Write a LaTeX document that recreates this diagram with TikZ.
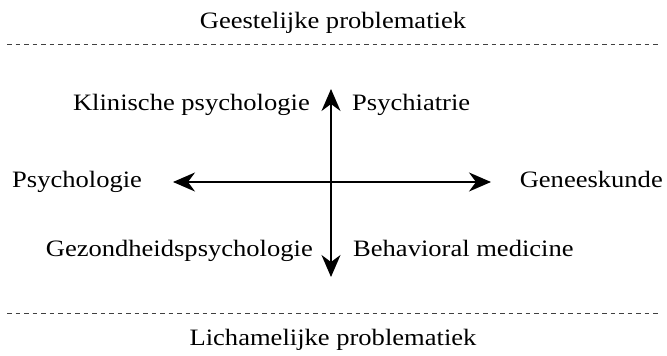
\documentclass[tikz,border=0pt]{standalone}
\usepackage{fontspec}
\setmainfont{Liberation Serif}[FakeStretch=1.13]
\usetikzlibrary{arrows.meta}
\begin{document}
\begin{tikzpicture}[x=1pt,y=-1pt,
  lbl/.style={inner sep=0pt, font=\fontsize{23.5}{28}\selectfont},
  axis/.style={line width=1.6pt, {Stealth[length=22pt,width=19pt,inset=7pt]}-{Stealth[length=22pt,width=19pt,inset=7pt]}},
  sep/.style={line width=0.8pt, black!75, dash pattern=on 4.5pt off 4pt}]
\useasboundingbox (0,0) rectangle (667,356);
\node[lbl, anchor=base] (top) at (333,28) {Geestelijke problematiek};
\node[lbl, anchor=base] (bot) at (333,345) {Lichamelijke problematiek};
\coordinate (s1a) at (7,44); \coordinate (s1b) at (661,44);
\coordinate (s2a) at (7,313); \coordinate (s2b) at (661,313);
\draw[sep] (s1a) -- (s1b);
\draw[sep] (s2a) -- (s2b);
\coordinate (L) at (173,182); \coordinate (R) at (491,182);
\coordinate (T) at (331,89); \coordinate (B) at (331,277);
\draw[axis] (L) -- (R);
\draw[axis] (B) -- (T);
\node[lbl, anchor=base east] (kp) at (310,110) {Klinische psychologie};
\node[lbl, anchor=base west] (ps) at (352,110) {Psychiatrie};
\node[lbl, anchor=base west] (psy) at (12,187) {Psychologie};
\node[lbl, anchor=base east] (gen) at (663,187) {Geneeskunde};
\node[lbl, anchor=base east] (gez) at (313,256) {Gezondheidspsychologie};
\node[lbl, anchor=base west] (bm) at (353,256) {Behavioral medicine};
\end{tikzpicture}
\end{document}
